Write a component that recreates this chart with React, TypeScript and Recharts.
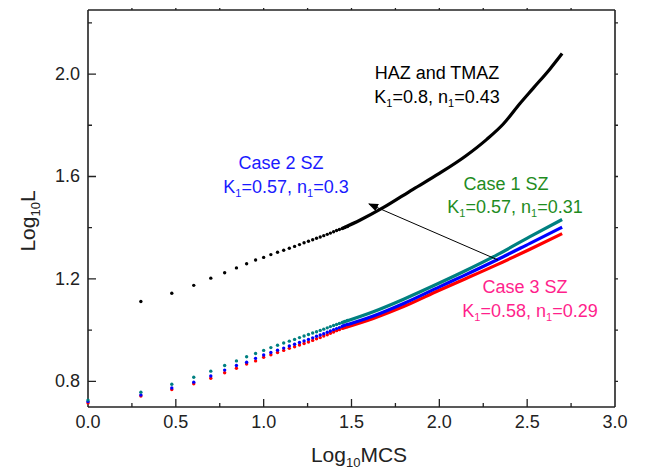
import { ComposedChart, Line, Scatter, XAxis, YAxis } from "recharts"

// Log10(MCS) of the early, separated steps (MCS = 1..30)
const dotX = [
  0, 0.301, 0.477, 0.602, 0.699, 0.778, 0.845, 0.903, 0.954, 1.0, 1.041, 1.079, 1.114, 1.146, 1.176, 1.204,
  1.23, 1.255, 1.279, 1.301, 1.322, 1.342, 1.362, 1.38, 1.398, 1.415, 1.431, 1.447, 1.462, 1.477,
]
// HAZ and TMAZ has no point at MCS = 1
const hazDots = [
  null, 1.112, 1.144, 1.175, 1.203, 1.224, 1.243, 1.259, 1.274, 1.284, 1.295, 1.304, 1.312, 1.32, 1.327, 1.334,
  1.341, 1.347, 1.353, 1.359, 1.364, 1.369, 1.374, 1.379, 1.384, 1.389, 1.393, 1.397, 1.401, 1.405,
]
const case1Dots = [
  0.727, 0.758, 0.789, 0.816, 0.84, 0.862, 0.88, 0.896, 0.909, 0.921, 0.932, 0.941, 0.95, 0.957, 0.964, 0.971,
  0.977, 0.983, 0.989, 0.994, 0.999, 1.004, 1.009, 1.014, 1.018, 1.022, 1.026, 1.03, 1.034, 1.038,
]
const case2Dots = [
  0.721, 0.747, 0.774, 0.797, 0.821, 0.844, 0.862, 0.875, 0.89, 0.903, 0.913, 0.922, 0.93, 0.938, 0.945, 0.952,
  0.958, 0.964, 0.97, 0.976, 0.981, 0.986, 0.992, 0.997, 1.002, 1.006, 1.01, 1.015, 1.019, 1.022,
]
const case3Dots = [
  0.716, 0.743, 0.768, 0.791, 0.812, 0.834, 0.851, 0.868, 0.88, 0.894, 0.904, 0.913, 0.921, 0.929, 0.935, 0.942,
  0.948, 0.954, 0.96, 0.966, 0.971, 0.977, 0.982, 0.988, 0.993, 0.998, 1.002, 1.007, 1.011, 1.014,
]

// dense part, where the points merge into a line
const hazLineX = [1.447, 1.55, 1.68, 1.85, 2.0, 2.15, 2.27, 2.364, 2.459, 2.535, 2.63, 2.699]
const hazLineY = [1.397, 1.43, 1.478, 1.55, 1.612, 1.68, 1.745, 1.805, 1.885, 1.945, 2.02, 2.08]
const szLineX = [1.447, 1.624, 1.8, 2.003, 2.136, 2.326, 2.516, 2.699]
const case1Line = [1.03, 1.072, 1.122, 1.185, 1.228, 1.293, 1.365, 1.432]
const case2Line = [1.015, 1.055, 1.105, 1.17, 1.212, 1.274, 1.339, 1.402]
const case3Line = [1.007, 1.046, 1.093, 1.157, 1.197, 1.255, 1.316, 1.377]

const xTicks = [0, 0.5, 1, 1.5, 2, 2.5, 3]
const yTicks = [0.8, 1.2, 1.6, 2.0]
const xMinor = [0.25, 0.75, 1.25, 1.75, 2.25, 2.75]
const yMinor = [1.0, 1.4, 1.8, 2.2]

const X_DOMAIN = [0, 3]
const Y_DOMAIN = [0.7, 2.25]

const COLORS = {
  haz: "#000000",
  case1: "#008080",
  case2: "#0000ff",
  case3: "#ff0000",
  case1Text: "#1f8c1f",
  case2Text: "#1a1aff",
  case3Text: "#ff1f8c",
}

const FONT = "'Liberation Sans', Arial, sans-serif"
const AXIS = "#222"

// layout
const W = 632
const H = 463
const MARGIN = { top: 1, right: 15, left: 0, bottom: 0 }
const TOP_H = 1
const BOTTOM_H = 64
const LEFT_W = 80
const RIGHT_W = 10
const PLOT = {
  left: MARGIN.left + LEFT_W,
  right: W - MARGIN.right - RIGHT_W,
  top: MARGIN.top + TOP_H,
  bottom: H - MARGIN.bottom - BOTTOM_H,
}

const toPoints = (xs: number[], ys: (number | null)[]) =>
  xs.map((x, i) => ({ x, y: ys[i] })).filter((p) => p.y !== null)

const BottomTick = (props: any) => {
  const { x, y, payload } = props
  return (
    <text x={x} y={y + 21} textAnchor="middle" fontSize={18} fontFamily={FONT} fill={AXIS}>
      {payload.value.toFixed(1)}
    </text>
  )
}

const LeftTick = (props: any) => {
  const { x, y, payload } = props
  return (
    <text x={x - 8} y={y + 6} textAnchor="end" fontSize={18} fontFamily={FONT} fill={AXIS}>
      {payload.value.toFixed(1)}
    </text>
  )
}

const dot = (color: string) => (props: any) => <circle cx={props.cx} cy={props.cy} r={1.7} fill={color} />

// K1=..., n1=... with subscripts
const KnText = ({ x, y, k, n, color }: { x: number; y: number; k: string; n: string; color: string }) => (
  <text x={x} y={y} textAnchor="middle" fontSize={18} fontFamily={FONT} fill={color}>
    K
    <tspan fontSize={11} dy={4}>
      1
    </tspan>
    <tspan dy={-4}>={k}, n</tspan>
    <tspan fontSize={11} dy={4}>
      1
    </tspan>
    <tspan dy={-4}>={n}</tspan>
  </text>
)

// frame tick marks (axis decoration only)
const TickMarks = () => {
  const px = (v: number) => PLOT.left + ((v - X_DOMAIN[0]) / (X_DOMAIN[1] - X_DOMAIN[0])) * (PLOT.right - PLOT.left)
  const py = (v: number) => PLOT.bottom - ((v - Y_DOMAIN[0]) / (Y_DOMAIN[1] - Y_DOMAIN[0])) * (PLOT.bottom - PLOT.top)
  const innerX = xTicks.filter((v) => v > X_DOMAIN[0] && v < X_DOMAIN[1])
  const d: string[] = []
  innerX.forEach((v) => d.push(`M${px(v)},${PLOT.bottom}v-8`))
  xMinor.forEach((v) => d.push(`M${px(v)},${PLOT.bottom}v-4`))
  ;[...innerX, ...xMinor].forEach((v) => d.push(`M${px(v)},${PLOT.top}v-3`))
  yTicks.forEach((v) => d.push(`M${PLOT.left},${py(v)}h8`))
  yMinor.forEach((v) => d.push(`M${PLOT.left},${py(v)}h4`))
  ;[...yTicks, ...yMinor].forEach((v) => d.push(`M${PLOT.right},${py(v)}h3`))
  return <path d={d.join("")} stroke={AXIS} strokeWidth={1.3} fill="none" />
}

export default function App() {
  return (
    <div style={{ position: "relative", width: W, height: H }}>
      <ComposedChart width={W} height={H} margin={MARGIN}>
        <XAxis
          xAxisId="b"
          dataKey="x"
          type="number"
          domain={X_DOMAIN}
          ticks={xTicks}
          interval={0}
          height={BOTTOM_H}
          tickSize={0}
          tickMargin={0}
          tickLine={false}
          tick={<BottomTick />}
          axisLine={{ stroke: AXIS, strokeWidth: 1.6 }}
        />
        <XAxis
          xAxisId="t"
          orientation="top"
          type="number"
          domain={X_DOMAIN}
          height={TOP_H}
          tick={false}
          tickLine={false}
          axisLine={{ stroke: AXIS, strokeWidth: 1.6 }}
        />
        <YAxis
          yAxisId="l"
          dataKey="y"
          type="number"
          domain={Y_DOMAIN}
          ticks={yTicks}
          interval={0}
          width={LEFT_W}
          tickSize={0}
          tickMargin={0}
          tickLine={false}
          tick={<LeftTick />}
          axisLine={{ stroke: AXIS, strokeWidth: 1.6 }}
        />
        <YAxis
          yAxisId="r"
          orientation="right"
          type="number"
          domain={Y_DOMAIN}
          width={RIGHT_W}
          tick={false}
          tickLine={false}
          axisLine={{ stroke: AXIS, strokeWidth: 1.6 }}
        />

        <Line xAxisId="b" yAxisId="l" data={toPoints(szLineX, case3Line)} dataKey="y" type="monotone" stroke={COLORS.case3} strokeWidth={3.2} dot={false} isAnimationActive={false} />
        <Line xAxisId="b" yAxisId="l" data={toPoints(szLineX, case2Line)} dataKey="y" type="monotone" stroke={COLORS.case2} strokeWidth={3.2} dot={false} isAnimationActive={false} />
        <Line xAxisId="b" yAxisId="l" data={toPoints(szLineX, case1Line)} dataKey="y" type="monotone" stroke={COLORS.case1} strokeWidth={3.2} dot={false} isAnimationActive={false} />
        <Line xAxisId="b" yAxisId="l" data={toPoints(hazLineX, hazLineY)} dataKey="y" type="monotone" stroke={COLORS.haz} strokeWidth={3.2} dot={false} isAnimationActive={false} />

        <Scatter xAxisId="b" yAxisId="l" data={toPoints(dotX, case3Dots)} dataKey="y" shape={dot(COLORS.case3)} isAnimationActive={false} />
        <Scatter xAxisId="b" yAxisId="l" data={toPoints(dotX, case2Dots)} dataKey="y" shape={dot(COLORS.case2)} isAnimationActive={false} />
        <Scatter xAxisId="b" yAxisId="l" data={toPoints(dotX, case1Dots)} dataKey="y" shape={dot(COLORS.case1)} isAnimationActive={false} />
        <Scatter xAxisId="b" yAxisId="l" data={toPoints(dotX, hazDots)} dataKey="y" shape={dot(COLORS.haz)} isAnimationActive={false} />
      </ComposedChart>

      <svg width={W} height={H} style={{ position: "absolute", left: 0, top: 0, pointerEvents: "none" }}>
        <defs>
          <marker id="arrowHead" markerWidth="10" markerHeight="8" refX="9" refY="4" orient="auto" markerUnits="userSpaceOnUse">
            <path d="M0,0 L10,4 L0,8 z" fill="#000" />
          </marker>
        </defs>
        <TickMarks />
        <line x1={490} y1={252} x2={361} y2={196} stroke="#000" strokeWidth={1} markerEnd="url(#arrowHead)" />

        <text x={429} y={71} textAnchor="middle" fontSize={18} fontFamily={FONT} fill="#000">
          HAZ and TMAZ
        </text>
        <KnText x={429} y={95} k="0.8" n="0.43" color="#000" />

        <text x={273} y={161} textAnchor="middle" fontSize={18} fontFamily={FONT} fill={COLORS.case2Text}>
          Case 2 SZ
        </text>
        <KnText x={278} y={185} k="0.57" n="0.3" color={COLORS.case2Text} />

        <text x={498} y={182} textAnchor="middle" fontSize={18} fontFamily={FONT} fill={COLORS.case1Text}>
          Case 1 SZ
        </text>
        <KnText x={507} y={205} k="0.57" n="0.31" color={COLORS.case1Text} />

        <text x={517} y={285} textAnchor="middle" fontSize={18} fontFamily={FONT} fill={COLORS.case3Text}>
          Case 3 SZ
        </text>
        <KnText x={522} y={309} k="0.58" n="0.29" color={COLORS.case3Text} />

        <text transform="translate(27,213) rotate(-90)" textAnchor="middle" fontSize={21} fontFamily={FONT} fill={AXIS}>
          Log
          <tspan fontSize={13} dy={5}>
            10
          </tspan>
          <tspan dy={-5}>L</tspan>
        </text>
        <text x={351} y={454} textAnchor="middle" fontSize={21} fontFamily={FONT} fill={AXIS}>
          Log
          <tspan fontSize={13} dy={5}>
            10
          </tspan>
          <tspan dy={-5}>MCS</tspan>
        </text>
      </svg>
    </div>
  )
}
